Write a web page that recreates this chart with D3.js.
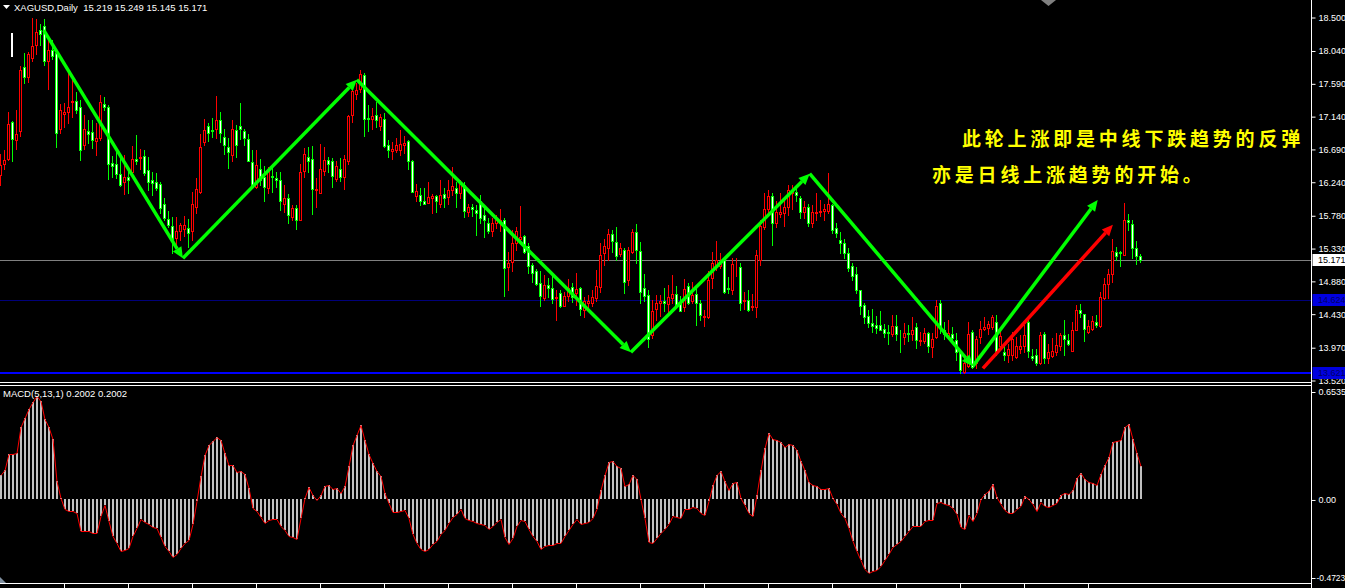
<!DOCTYPE html>
<html><head><meta charset="utf-8">
<script src="https://cdn.jsdelivr.net/npm/d3@7"></script>
<style>html,body{margin:0;padding:0;background:#000;overflow:hidden}</style>
</head><body>
<svg id="c" width="1345" height="588"></svg>
<script>
// ---------- DATA ----------
const openP = [16.33,16.48,16.55,17.06,16.81,16.93,17.81,17.68,17.94,18.11,18.32,18.38,17.89,18.05,18.01,16.97,17.17,17.19,17.33,17.35,
17.26,16.75,16.94,16.92,16.80,16.84,17.30,17.26,16.50,16.48,16.35,16.23,16.30,16.37,16.55,16.57,16.59,16.40,16.27,16.23,
16.21,15.93,15.73,15.63,15.47,15.56,15.59,15.61,15.56,15.89,16.10,16.79,17.00,16.95,16.97,17.09,16.85,16.71,16.61,16.95,
17.00,16.94,16.83,16.51,16.17,16.42,16.30,16.16,16.32,16.29,16.27,15.94,16.01,15.76,15.88,15.71,16.39,16.58,16.55,16.12,
16.09,16.39,16.54,16.52,16.28,16.42,16.30,16.52,17.16,17.45,17.51,17.70,17.12,17.10,17.16,17.00,17.10,16.74,16.66,16.68,
16.68,16.74,16.80,16.52,16.04,16.06,15.98,15.95,16.02,16.04,15.94,16.07,16.03,16.12,16.16,16.09,16.20,15.83,15.89,15.85,
15.98,15.78,15.68,15.56,15.68,15.69,15.72,15.07,15.14,15.40,15.45,15.50,15.36,15.10,15.01,14.85,14.64,14.82,14.78,14.64,
14.71,14.54,14.67,14.80,14.71,14.78,14.48,14.58,14.58,14.64,14.80,15.26,15.33,15.52,15.42,15.25,15.31,14.89,15.28,15.55,
15.29,14.78,14.69,14.14,14.50,14.58,14.60,14.56,14.64,14.70,14.59,14.52,14.81,14.60,14.70,14.58,14.39,14.39,14.92,15.08,
15.08,15.18,14.78,14.76,15.08,15.07,14.60,14.62,14.52,14.52,15.16,15.62,15.86,16.04,15.67,15.80,15.81,15.90,16.08,16.10,
16.01,15.82,15.89,15.67,15.81,15.82,15.84,15.84,15.92,15.60,15.44,15.40,15.26,15.08,14.97,14.75,14.55,14.40,14.30,14.27,
14.27,14.22,14.18,14.15,14.26,14.13,14.11,14.16,14.15,14.25,14.06,14.05,14.16,13.97,14.11,14.57,14.21,14.12,14.15,14.07,
13.91,13.63,13.71,14.18,13.75,14.11,14.22,14.23,14.25,14.31,13.98,13.91,13.86,13.86,13.84,13.94,13.99,14.31,13.85,13.86,
13.75,14.15,13.82,13.85,13.90,13.98,14.14,14.07,13.92,14.21,14.48,14.43,14.18,14.22,14.32,14.26,14.65,14.84,14.98,15.27,
15.27,15.24,15.72,15.66,15.33,15.219];
const highP = [16.62,16.68,17.19,17.07,17.22,17.83,18.01,18.02,18.48,18.47,18.40,18.47,18.21,18.18,18.02,17.31,17.32,17.73,17.68,17.47,
17.36,17.16,17.09,17.09,17.04,17.43,17.40,17.29,16.59,16.66,16.56,16.61,16.43,16.73,16.88,16.69,16.68,16.58,16.37,16.36,
16.24,16.01,15.84,15.76,15.76,15.67,15.77,15.73,16.10,16.29,16.90,17.10,17.04,17.12,17.41,17.20,16.97,16.84,17.09,17.02,
17.32,16.97,16.90,16.68,16.68,16.55,16.45,16.44,16.46,16.38,16.38,16.20,16.07,15.92,15.92,16.48,16.70,16.71,16.73,16.29,
16.76,16.71,16.58,16.56,16.52,16.56,16.61,17.16,17.52,17.60,17.77,17.73,17.29,17.25,17.34,17.17,17.18,16.81,16.79,16.84,
16.95,16.87,16.81,16.54,16.21,16.15,16.16,16.24,16.07,16.06,16.27,16.15,16.27,16.44,16.24,16.26,16.23,15.93,15.93,15.92,
16.06,15.88,15.74,15.74,15.78,15.86,15.74,15.27,15.58,15.62,15.91,15.51,15.40,15.13,15.04,15.02,14.96,14.92,14.97,14.76,
14.76,14.73,14.90,14.85,14.99,14.79,14.66,14.69,14.76,15.03,15.40,15.46,15.59,15.58,15.62,15.40,15.33,15.35,15.59,15.66,
15.42,14.97,14.75,14.62,14.69,14.69,14.78,14.82,14.96,14.81,14.67,14.90,14.85,14.86,14.80,14.62,14.48,15.01,15.28,15.43,
15.26,15.19,14.93,15.20,15.19,15.12,14.73,14.75,14.70,15.31,15.72,16.09,16.12,16.08,15.97,16.08,16.03,16.20,16.20,16.15,
16.04,15.98,15.94,15.92,16.09,15.99,15.94,16.36,15.94,15.67,15.55,15.46,15.33,15.12,15.07,14.76,14.58,14.48,14.49,14.40,
14.46,14.29,14.27,14.41,14.41,14.21,14.30,14.27,14.38,14.30,14.18,14.24,14.18,14.16,14.62,14.62,14.31,14.35,14.25,14.16,
13.93,13.82,14.31,14.21,14.12,14.33,14.38,14.33,14.41,14.41,14.22,14.00,14.01,14.18,14.11,14.14,14.28,14.34,13.94,13.94,
14.18,14.18,14.02,14.09,14.17,14.17,14.34,14.15,14.31,14.55,14.56,14.43,14.34,14.40,14.41,14.73,14.92,15.04,15.45,15.35,
15.29,15.95,15.80,15.71,15.43,15.249];
const lowP = [16.19,16.42,16.54,16.53,16.69,16.87,17.59,17.61,17.89,17.99,18.11,17.84,17.51,17.92,16.72,16.91,16.99,17.04,17.13,17.18,
16.54,16.69,16.77,16.70,16.60,16.81,17.23,16.28,16.31,16.29,16.18,16.07,16.08,16.31,16.49,16.42,16.33,16.13,16.06,16.13,
15.81,15.72,15.62,15.26,15.34,15.44,15.49,15.35,15.44,15.81,16.09,16.74,16.80,16.85,16.84,16.79,16.62,16.43,16.52,16.58,
16.82,16.74,16.52,16.15,16.15,16.20,15.98,16.08,16.10,16.17,15.85,15.82,15.67,15.72,15.59,15.71,16.30,16.38,15.80,15.90,
16.08,16.33,16.38,16.17,16.25,16.25,16.14,16.48,17.06,17.38,17.47,16.87,16.94,16.96,16.99,16.95,16.71,16.58,16.55,16.65,
16.61,16.64,16.41,16.10,15.97,15.92,15.93,15.95,15.81,15.83,15.89,15.89,15.94,16.06,15.89,16.01,15.75,15.77,15.77,15.51,
15.67,15.48,15.53,15.50,15.60,15.56,14.67,14.76,15.02,15.30,15.40,15.26,14.99,14.87,14.82,14.53,14.62,14.66,14.57,14.35,
14.52,14.53,14.60,14.59,14.55,14.41,14.38,14.48,14.53,14.60,14.73,15.10,15.16,15.28,15.17,15.22,14.72,14.82,15.26,15.13,
14.57,14.60,13.97,14.09,14.35,14.40,14.46,14.44,14.57,14.52,14.46,14.46,14.56,14.57,14.28,14.34,14.26,14.37,14.78,15.03,
15.05,14.71,14.71,14.70,14.95,14.48,14.49,14.46,14.48,14.39,15.10,15.59,15.83,15.37,15.62,15.76,15.63,15.78,15.87,15.98,
15.74,15.74,15.63,15.62,15.71,15.77,15.72,15.81,15.54,15.48,15.26,15.19,15.01,14.89,14.71,14.43,14.30,14.25,14.18,14.17,
14.20,14.11,14.02,14.12,14.07,13.90,14.02,14.05,14.07,13.96,14.00,14.03,13.91,13.83,14.09,14.16,14.08,14.09,14.05,13.80,
13.62,13.62,13.70,13.68,13.68,14.03,14.21,14.15,14.22,13.86,13.93,13.80,13.77,13.80,13.82,13.89,13.91,13.84,13.80,13.73,
13.74,13.75,13.75,13.84,13.86,13.93,13.86,14.00,13.92,14.21,14.39,14.05,14.17,14.21,14.25,14.25,14.63,14.64,14.87,15.16,
15.08,15.24,15.58,15.19,15.11,15.145];
const closeP = [16.47,16.54,17.03,16.82,16.90,17.77,17.67,17.99,18.10,18.30,18.26,17.89,18.05,17.96,16.91,17.22,17.19,17.26,17.35,17.23,
16.68,16.96,16.90,16.81,16.84,17.33,17.26,16.49,16.45,16.34,16.20,16.30,16.26,16.55,16.53,16.58,16.36,16.24,16.22,16.16,
15.88,15.74,15.65,15.45,15.56,15.65,15.65,15.53,15.93,16.14,16.71,16.95,16.91,16.94,17.09,16.91,16.74,16.65,16.96,16.74,
16.97,16.84,16.53,16.17,16.47,16.27,16.17,16.40,16.30,16.27,15.97,16.01,15.78,15.88,15.72,16.37,16.62,16.52,16.14,16.14,
16.41,16.54,16.49,16.32,16.46,16.31,16.55,17.14,17.48,17.50,17.72,17.10,17.10,17.14,17.09,17.13,16.73,16.67,16.69,16.74,
16.76,16.77,16.52,16.10,16.11,15.97,15.94,16.03,16.04,15.97,16.06,16.02,16.12,16.18,16.09,16.21,15.84,15.90,15.86,15.81,
15.74,15.72,15.57,15.68,15.72,15.71,15.05,15.13,15.40,15.57,15.48,15.28,15.08,14.99,14.84,14.67,14.82,14.78,14.63,14.66,
14.53,14.67,14.78,14.66,14.77,14.50,14.60,14.61,14.66,14.81,15.23,15.36,15.52,15.43,15.22,15.33,14.86,15.30,15.55,15.30,
14.73,14.67,14.08,14.46,14.57,14.61,14.58,14.66,14.70,14.55,14.47,14.77,14.58,14.69,14.57,14.41,14.40,14.89,15.12,15.16,
15.13,14.73,14.77,15.11,15.09,14.57,14.62,14.48,14.53,15.23,15.63,15.86,16.04,15.67,15.83,15.82,15.90,16.12,16.13,16.06,
15.82,15.89,15.68,15.83,15.83,15.84,15.86,15.93,15.58,15.54,15.40,15.26,15.05,14.95,14.75,14.54,14.39,14.30,14.26,14.24,
14.21,14.17,14.16,14.26,14.15,14.12,14.17,14.15,14.21,14.07,14.07,14.17,13.99,14.08,14.54,14.23,14.15,14.17,14.10,13.91,
13.66,13.76,14.15,13.70,14.08,14.22,14.25,14.29,14.39,13.91,14.12,13.86,13.94,14.08,13.98,13.99,14.14,13.92,13.82,13.75,
14.14,13.82,13.90,13.92,14.00,14.14,14.08,14.02,14.20,14.48,14.44,14.22,14.26,14.33,14.28,14.66,14.84,14.97,15.29,15.22,
15.26,15.72,15.69,15.33,15.22,15.171];
const macdValues = [0.150,0.180,0.273,0.275,0.279,0.439,0.495,0.549,0.589,0.629,0.599,0.489,0.439,0.369,0.110,0.010,-0.060,-0.070,-0.070,-0.080,
-0.190,-0.190,-0.190,-0.204,-0.200,-0.100,-0.034,-0.130,-0.220,-0.265,-0.309,-0.305,-0.293,-0.220,-0.170,-0.120,-0.134,-0.150,-0.166,-0.174,
-0.226,-0.279,-0.309,-0.349,-0.333,-0.293,-0.265,-0.246,-0.150,-0.010,0.140,0.269,0.329,0.353,0.379,0.359,0.279,0.210,0.206,0.166,
0.174,0.154,0.070,-0.050,-0.070,-0.106,-0.140,-0.124,-0.120,-0.120,-0.160,-0.184,-0.224,-0.226,-0.240,-0.110,0.010,0.074,0.030,-0.006,
0.030,0.080,0.090,0.066,0.070,0.040,0.080,0.200,0.329,0.393,0.449,0.359,0.273,0.220,0.174,0.140,0.040,-0.020,-0.074,-0.076,
-0.070,-0.066,-0.110,-0.210,-0.265,-0.299,-0.313,-0.299,-0.269,-0.250,-0.210,-0.186,-0.140,-0.106,-0.090,-0.060,-0.110,-0.124,-0.130,-0.140,
-0.150,-0.156,-0.180,-0.160,-0.134,-0.116,-0.230,-0.269,-0.234,-0.160,-0.124,-0.130,-0.180,-0.220,-0.250,-0.299,-0.283,-0.273,-0.275,-0.265,
-0.265,-0.220,-0.186,-0.150,-0.120,-0.146,-0.140,-0.134,-0.110,-0.060,0.060,0.150,0.226,0.234,0.200,0.190,0.080,0.094,0.146,0.126,
0.000,-0.110,-0.259,-0.265,-0.234,-0.200,-0.180,-0.150,-0.102,-0.106,-0.110,-0.056,-0.060,-0.046,-0.054,-0.080,-0.096,-0.010,0.090,0.146,
0.174,0.110,0.060,0.100,0.106,0.010,-0.034,-0.080,-0.100,0.030,0.180,0.309,0.403,0.369,0.359,0.345,0.319,0.333,0.329,0.299,
0.230,0.180,0.106,0.090,0.080,0.066,0.064,0.070,0.010,-0.030,-0.080,-0.114,-0.170,-0.250,-0.309,-0.369,-0.419,-0.443,-0.435,-0.425,
-0.405,-0.369,-0.329,-0.289,-0.269,-0.250,-0.220,-0.190,-0.160,-0.158,-0.158,-0.130,-0.124,-0.126,-0.020,-0.014,-0.026,-0.036,-0.054,-0.090,
-0.164,-0.176,-0.096,-0.130,-0.080,0.000,0.034,0.054,0.094,0.014,-0.030,-0.066,-0.080,-0.084,-0.060,-0.040,0.020,0.004,-0.030,-0.070,
-0.014,-0.042,-0.046,-0.034,-0.020,0.030,0.040,0.034,0.060,0.130,0.160,0.126,0.104,0.100,0.090,0.154,0.210,0.259,0.345,0.353,
0.359,0.439,0.459,0.369,0.279,0.2002];

const priceTicks = [18.5,18.04,17.59,17.14,16.69,16.24,15.78,15.33,14.88,14.43,13.97,13.52];
const macdTicks = [0.6535,0,-0.4723];
const macdTickLabels = ["0.6535","0.00","-0.4723"];
const priceLevels = [
  {value:15.171, label:"15.171", kind:"bid"},
  {value:14.624, label:"14.624", kind:"level"},
  {value:13.621, label:"13.621", kind:"support"}
];
// trend arrows: [startBar, startPrice, endBar, endPrice]
const greenArrows = [[10.8,18.32,45.6,15.19],[45.6,15.19,89.1,17.64],[89.1,17.64,157.6,13.90],
                     [157.6,13.90,202.3,16.35],[202.3,16.35,243.1,13.71],[243.1,13.71,274.3,15.99]];
const redArrows = [[245.6,13.68,278.1,15.65]];
const headerText = "XAGUSD,Daily  15.219 15.249 15.145 15.171";
const macdTitle = "MACD(5,13,1) 0.2002 0.2002";
const noteLines = ["此轮上涨即是中线下跌趋势的反弹","亦是日线上涨趋势的开始。"];

// ---------- CHART ----------
const svg = d3.select("#c");
svg.append("rect").attr("width",1345).attr("height",588).attr("fill","#000");
const AX = 1311.5;
const n = closeP.length;
const x = d3.scaleLinear().domain([0, n-1]).range([0.5, 4*(n-1)+0.5]);
const y = d3.scaleLinear().domain([13.52, 18.5]).range([380, 17]);
const ym = d3.scaleLinear().domain([-0.4723, 0.6535]).range([577.5, 391.5]);
const FONT = "Liberation Sans, Arial, sans-serif";
const AXFS = 9;

const bars = d3.range(n).map(i => ({i, o:openP[i], h:highP[i], l:lowP[i], c:closeP[i]}));

// horizontal levels
const lvlColor = {bid:"#808080", level:"#00007a", support:"#0000ff"};
const lvlWidth = {bid:1, level:1, support:2};
priceLevels.forEach(d => {
  const yy = Math.round(y(d.value)) + (lvlWidth[d.kind]===1?0.5:0);
  svg.append("line").attr("x1",0).attr("x2",AX).attr("y1",yy).attr("y2",yy)
    .attr("stroke",lvlColor[d.kind]).attr("stroke-width",lvlWidth[d.kind]);
});

// candles
const g = svg.append("g");
g.selectAll("line.wick").data(bars).join("line")
  .attr("x1",d=>x(d.i)).attr("x2",d=>x(d.i))
  .attr("y1",d=>Math.round(y(d.h))).attr("y2",d=>Math.round(y(d.l))+1)
  .attr("stroke",d=>d.c>=d.o?"#ff0000":"#00ff00").attr("stroke-width",1);
g.selectAll("rect.body").data(bars).join("rect")
  .attr("x",d=>x(d.i)-1).attr("width",2)
  .attr("y",d=>Math.round(y(Math.max(d.o,d.c)))+0.5)
  .attr("height",d=>Math.max(0, Math.round(y(Math.min(d.o,d.c))) - Math.round(y(Math.max(d.o,d.c)))))
  .attr("fill",d=>d.c>=d.o?"#000000":"#ffffff")
  .attr("stroke",d=>d.c>=d.o?"#ff0000":"#00ff00").attr("stroke-width",1);

// arrows
function drawArrow(a, color){
  const x1=x(a[0]), y1=y(a[1]), x2=x(a[2]), y2=y(a[3]);
  const ang = Math.atan2(y2-y1, x2-x1);
  const L=11, W=5;
  const bx = x2 - L*Math.cos(ang), by = y2 - L*Math.sin(ang);
  svg.append("line").attr("x1",x1).attr("y1",y1).attr("x2",bx).attr("y2",by)
    .attr("stroke",color).attr("stroke-width",3.5);
  svg.append("polygon").attr("points",[
    [x2,y2],[bx - W*Math.sin(ang), by + W*Math.cos(ang)],[bx + W*Math.sin(ang), by - W*Math.cos(ang)]
  ].map(p=>p.join(",")).join(" ")).attr("fill",color);
}
greenArrows.forEach(a=>drawArrow(a,"#00ff00"));
redArrows.forEach(a=>drawArrow(a,"#ff0000"));

// note text
noteLines.forEach((t,k)=>{
  svg.append("text").attr("x",k===0?962:932).attr("y",k===0?146:182)
    .attr("fill","#ffff00").attr("font-family","Noto Sans CJK SC").attr("font-size",19)
    .attr("font-weight","bold").attr("letter-spacing",3.8).text(t);
});

// small white marker top-left
svg.append("rect").attr("x",11).attr("y",33).attr("width",2).attr("height",24).attr("fill","#fff");

// header
svg.append("polygon").attr("points","3,5 10,5 6.5,9").attr("fill","#fff");
svg.append("text").attr("x",14).attr("y",11).attr("fill","#fff").attr("font-family",FONT)
  .attr("font-size",9.5).attr("xml:space","preserve").style("white-space","pre").text(headerText);

// panel separators
[382.5, 385.5].forEach(v=>svg.append("line").attr("x1",0).attr("x2",AX).attr("y1",v).attr("y2",v).attr("stroke","#fff"));

// MACD histogram
const z = Math.round(ym(0));
svg.append("g").selectAll("rect").data(macdValues).join("rect")
  .attr("x",(d,i)=>x(i)-0.5).attr("width",2)
  .attr("y",d=>Math.round(Math.min(ym(d),z)))
  .attr("height",d=>Math.max(1,Math.abs(Math.round(ym(d))-z)))
  .attr("fill","#c0c0c0");
svg.append("path").datum(macdValues)
  .attr("d", d3.line().x((d,i)=>x(i)+0.5).y(d=>Math.round(ym(d))+0.5))
  .attr("fill","none").attr("stroke","#ff0000").attr("stroke-width",1);
svg.append("text").attr("x",3).attr("y",397).attr("fill","#fff").attr("font-family",FONT)
  .attr("font-size",9.5).text(macdTitle);
svg.append("polygon").attr("points","0,577 0,583 6,583").attr("fill","#8090a0");

// bottom time axis
svg.append("line").attr("x1",0).attr("x2",AX).attr("y1",583.5).attr("y2",583.5).attr("stroke","#fff");
const tAxis = d3.axisBottom(x).tickValues(d3.range(16, n, 16)).tickFormat("").tickSize(5).tickSizeOuter(0);
const tg = svg.append("g").attr("transform","translate(-0.5,583.5)").call(tAxis);
tg.select(".domain").remove();
tg.selectAll("line").attr("stroke","#fff");

// right axis line
svg.append("line").attr("x1",AX).attr("x2",AX).attr("y1",0).attr("y2",588).attr("stroke","#fff");

// price axis
const pAxis = d3.axisRight(y).tickValues(priceTicks).tickFormat(d3.format(".3f")).tickSize(4).tickPadding(3);
const pg = svg.append("g").attr("transform",`translate(${AX},0.5)`).call(pAxis);
pg.select(".domain").remove();
pg.selectAll("line").attr("stroke","#fff");
pg.selectAll("text").attr("fill","#fff").attr("font-family",FONT).attr("font-size",AXFS);

// MACD axis
const mAxis = d3.axisRight(ym).tickValues(macdTicks).tickFormat((d,i)=>macdTickLabels[i]).tickSize(4).tickPadding(3);
const mg = svg.append("g").attr("transform",`translate(${AX},0.5)`).call(mAxis);
mg.select(".domain").remove();
mg.selectAll("line").attr("stroke","#fff");
mg.selectAll("text").attr("fill","#fff").attr("font-family",FONT).attr("font-size",AXFS)
  .each(function(d){ if (d < 0) d3.select(this).attr("font-size",8.5).attr("dx",-2); });

// level labels on the axis
const boxFill = {bid:"#ffffff", level:"#0000e0", support:"#0000e0"};
const boxText = {bid:"#000000", level:"#000066", support:"#000066"};
priceLevels.forEach(d=>{
  const yy = Math.round(y(d.value));
  svg.append("rect").attr("x",AX+1).attr("y",yy-6).attr("width",1345-AX).attr("height",12).attr("fill",boxFill[d.kind]);
  svg.append("text").attr("x",1318).attr("y",yy+0.5).attr("dy","0.32em").attr("fill",boxText[d.kind])
    .attr("font-family",FONT).attr("font-size",AXFS).text(d.label);
});

// top-right shift marker
svg.append("polygon").attr("points","1041,0 1056,0 1048.5,6").attr("fill","#808080");
</script>
</body></html>
